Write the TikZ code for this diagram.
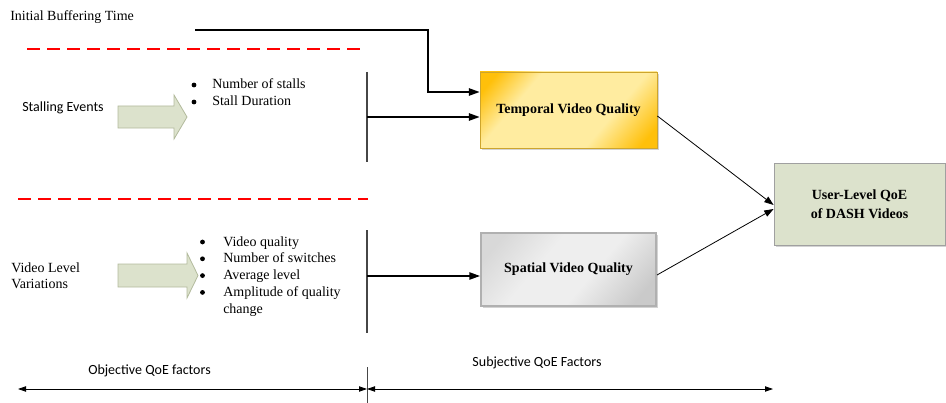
\documentclass[tikz,border=0pt]{standalone}
\usepackage{fontspec}
\setmainfont{Liberation Serif}
\newfontfamily\calibri{Carlito}
\usetikzlibrary{arrows.meta,shadows,calc}
\definecolor{olivefill}{RGB}{220,226,204}
\definecolor{oliveline}{RGB}{178,186,156}
\definecolor{goldc}{RGB}{255,192,10}
\definecolor{paleyellow}{RGB}{255,236,160}
\definecolor{goldline}{RGB}{205,165,45}
\definecolor{boxgray}{RGB}{176,176,176}
\definecolor{grayA}{RGB}{216,216,216}
\definecolor{grayB}{RGB}{238,238,238}
\definecolor{grayC}{RGB}{202,202,202}
\definecolor{userline}{RGB}{160,160,160}
\definecolor{vgray}{RGB}{70,70,70}
\pgfdeclarehorizontalshading{goldshade}{100bp}{color(0bp)=(goldc); color(20bp)=(goldc); color(33bp)=(paleyellow); color(64bp)=(paleyellow); color(80bp)=(goldc); color(100bp)=(goldc)}
\pgfdeclarehorizontalshading{grayshade}{100bp}{color(0bp)=(grayA); color(22bp)=(grayA); color(40bp)=(grayB); color(58bp)=(grayB); color(78bp)=(grayC); color(100bp)=(grayC)}
\begin{document}
\begin{tikzpicture}[x=0.75pt,y=-0.75pt,
  font=\fontsize{10.5}{12.75}\selectfont,
  shadowed/.style={drop shadow={shadow xshift=1.5pt,shadow yshift=-1.5pt,opacity=0.35}},
  temporalbox/.style={shadowed,draw=goldline,line width=0.6pt,shading=goldshade,shading angle=-40,minimum width=132.75pt,minimum height=57pt,font=\fontsize{10.5}{12.75}\selectfont\bfseries},
  spatialbox/.style={shadowed,draw=boxgray,line width=1.5pt,shading=grayshade,shading angle=-40,minimum width=131.25pt,minimum height=55pt,font=\fontsize{10.5}{12.75}\selectfont\bfseries},
  userbox/.style={shadowed,draw=userline,line width=0.6pt,fill=olivefill,minimum width=128.25pt,minimum height=61.5pt,align=center,font=\fontsize{10.5}{14.5}\selectfont\bfseries},
  blockarrow/.style={draw=oliveline,line width=0.6pt,fill=olivefill},
  conn/.style={line width=1.1pt,-{Triangle[length=8pt,width=5.5pt]}},
  thinconn/.style={line width=0.6pt,-{Triangle[length=7pt,width=5pt]}},
  dblconn/.style={line width=0.6pt,{Triangle[length=6pt,width=4pt]}-{Triangle[length=6pt,width=4pt]}},
  vline/.style={line width=0.8pt,draw=vgray},
  reddash/.style={line width=1.5pt,draw=red,dash pattern=on 9.75pt off 5.25pt},
  txt/.style={anchor=base west,inner sep=0pt},
  sanstxt/.style={inner sep=0pt,font=\fontsize{10.5}{12.75}\selectfont\calibri},
  dot/.style={circle,fill=black,inner sep=0pt,minimum size=3.6pt}
]
\useasboundingbox (0,0) rectangle (946,403);

% boxes
\node[temporalbox] (temporal) at (568.5,110) {Temporal Video Quality};
\node[spatialbox] (spatial) at (568.5,269.5) {Spatial Video Quality};
\node[userbox] (user) at (859.5,204) {User-Level QoE\\of DASH Videos};

% left texts
\node[txt] (ibt) at (10,21) {Initial Buffering Time};
\node[sanstxt,anchor=base west] (stall) at (22,112) {Stalling Events};
\node[txt] (vl1) at (11,272) {Video Level};
\node[txt] (vl2) at (11,288) {Variations};

% block arrows
\draw[blockarrow] (118,106) -- (174,106) -- (174,95) -- (187,117) -- (174,139) -- (174,128) -- (118,128) -- cycle;
\draw[blockarrow] (118,264) -- (187,264) -- (187,253) -- (198,275.5) -- (187,298) -- (187,287) -- (118,287) -- cycle;

% bullet list 1
\foreach \t [count=\i] in {Number of stalls,Stall Duration}{
  \node[txt] (ba\i) at (212,{89+17*(\i-1)}) {\t};
  \node[dot] (da\i) at (194,{85+17*(\i-1)}) {};
}
% bullet list 2
\foreach \t [count=\i] in {Video quality,Number of switches,Average level,Amplitude of quality}{
  \node[txt] (bb\i) at (223,{246+16.8*(\i-1)}) {\t};
  \node[dot] (db\i) at (202.5,{242+16.8*(\i-1)}) {};
}
\node[txt] (bb5) at (223,313.2) {change};

% red dashed separators
\coordinate (r1a) at (27,49);  \coordinate (r1b) at (360,49);
\coordinate (r2a) at (18,199); \coordinate (r2b) at (368,199);
\draw[reddash] (r1a) -- (r1b);
\draw[reddash] (r2a) -- (r2b);

% initial buffering connector
\coordinate (ibtstart) at (195,30);
\coordinate (ibtcorner) at (428,30);
\draw[conn] (ibtstart) -- (ibtcorner) |- ($(temporal.west)+(0,-18)$);

% vertical bars and connectors
\coordinate (v1top) at (367,72);  \coordinate (v1bot) at (367,162);
\coordinate (v1mid) at (367,117);
\draw[vline] (v1top) -- (v1bot);
\draw[conn] (v1mid) -- (temporal.west |- v1mid);

\coordinate (v2top) at (367,230); \coordinate (v2bot) at (367,333);
\coordinate (v2mid) at (367,276);
\draw[vline] (v2top) -- (v2bot);
\draw[conn] (v2mid) -- (spatial.west |- v2mid);

% to user box
\draw[thinconn] ($(temporal.east)+(0,6)$) -- ($(user.west)+(0,1)$);
\draw[thinconn] ($(spatial.east)+(0,5.5)$) -- ($(user.west)+(0,5)$);

% bottom axis
\coordinate (bl) at (18,389);
\coordinate (bm) at (367,389);
\coordinate (br) at (773,389);
\coordinate (bvt) at (367,367);
\coordinate (bvb) at (367,403);
\draw[vline,line width=0.6pt] (bvt) -- (bvb);
\draw[dblconn] (bl) -- (bm);
\draw[dblconn] (bm) -- (br);
\node[sanstxt] (obj) at (149.5,371) {Objective QoE factors};
\node[sanstxt] (subj) at (537,363) {Subjective QoE Factors};
\end{tikzpicture}
\end{document}
